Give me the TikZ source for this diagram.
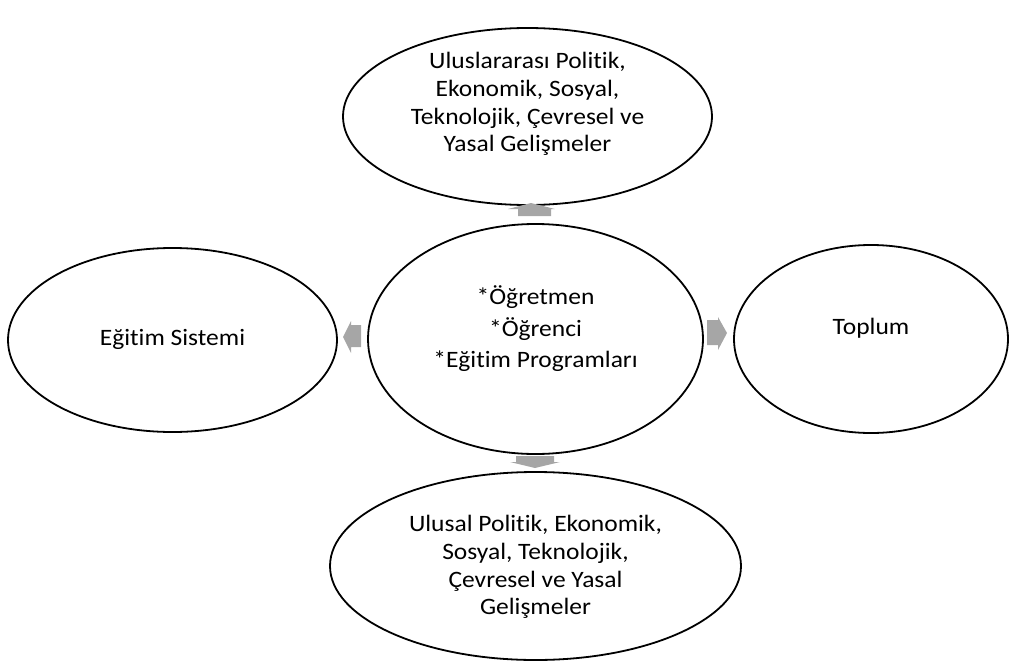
\documentclass[tikz,border=0pt]{standalone}
\usepackage{fontspec}
\setmainfont{Carlito}
\newfontfamily\widefont[FakeStretch=1.085,RawFeature={-liga}]{Carlito}
\usetikzlibrary{shapes.geometric}
\definecolor{arrowgray}{HTML}{A6A6A6}
\begin{document}
\begin{tikzpicture}[x=1pt,y=-1pt,
  ell/.style={draw=black, line width=1.8pt, ellipse, inner sep=0pt},
  txt/.style={align=center, inner sep=0pt, font=\widefont\fontsize{23.5}{27.7}\selectfont},
  blockarrow/.style={fill=arrowgray, draw=none}]
\useasboundingbox (0,0) rectangle (1010,664);
% ellipses
\node[ell, minimum width=369, minimum height=177] (top) at (527.5,116.5) {};
\node[ell, minimum width=329, minimum height=184] (left) at (172.5,340) {};
\node[ell, minimum width=335, minimum height=230] (center) at (535.5,339) {};
\node[ell, minimum width=274, minimum height=188] (right) at (871,339) {};
\node[ell, minimum width=411, minimum height=188] (bottom) at (535.5,566) {};
% texts
\node[txt] (toptext) at (527.5,104) {Uluslararası Politik,\\Ekonomik, Sosyal,\\Teknolojik, Çevresel ve\\Yasal Gelişmeler};
\node[txt] (lefttext) at (172.5,339) {Eğitim Sistemi};
\node[txt, font=\widefont\fontsize{23.5}{31.5}\selectfont] (centertext) at (535.5,329) {*Öğretmen\\*Öğrenci\\*Eğitim Programları};
\node[txt] (righttext) at (871,328) {Toplum};
\node[txt] (bottomtext) at (535.5,567) {Ulusal Politik, Ekonomik,\\Sosyal, Teknolojik,\\Çevresel ve Yasal\\Gelişmeler};
% block arrows
\fill[blockarrow] (518,216) -- (518,209) -- (508,209) -- (531,203) -- (555,209) -- (551,209) -- (551,216) -- cycle;
\fill[blockarrow] (516,456) -- (516,462) -- (510,462) -- (535,468) -- (560,462) -- (554,462) -- (554,456) -- cycle;
\fill[blockarrow] (361,325) -- (351,325) -- (351,321) -- (343,337) -- (351,353) -- (351,347) -- (361,347) -- cycle;
\fill[blockarrow] (707,320) -- (718,320) -- (718,317) -- (727,333) -- (718,350) -- (718,345) -- (707,345) -- cycle;
\end{tikzpicture}
\end{document}
